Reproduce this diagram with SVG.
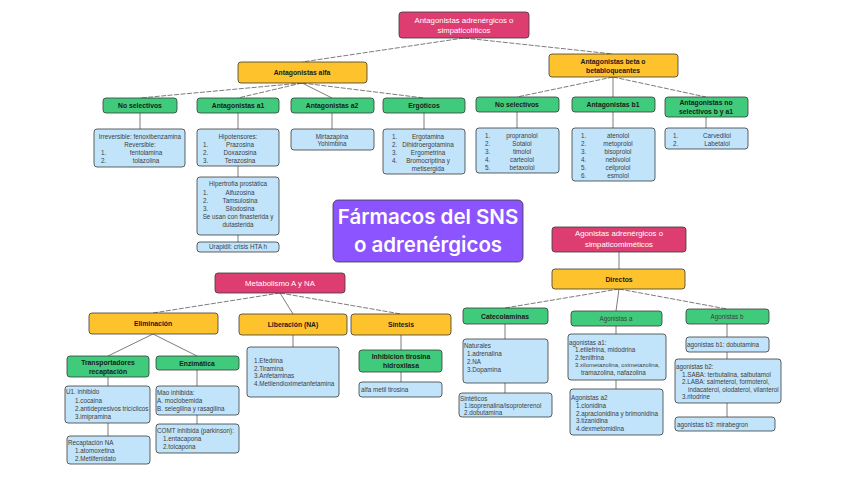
<svg xmlns="http://www.w3.org/2000/svg" width="848" height="477" viewBox="0 0 848 477">
<style>
rect{stroke:#3a3a3a;stroke-width:0.8}
.pk{fill:#DE3D72}.yl{fill:#FEC22C}.gn{fill:#3FCB7B}.bl{fill:#C2E4FA}.pu{fill:#8C54FF}
text{font-family:"Liberation Sans",Arial,sans-serif}
.h{font-size:6.8px;font-weight:bold;fill:#1a1a1a;text-anchor:middle}
.w{font-size:7.8px;fill:#fff;text-anchor:middle}
.t{font-size:6.3px;fill:#404040}
.s{font-size:6px}
.c{text-anchor:middle}
.ttl{font-family:Inter,"Open Sans",sans-serif;font-size:20.5px;font-weight:600;fill:#fff;text-anchor:middle}
.ln line{stroke:#5a5a5a;stroke-width:0.8}
.ln .d{stroke-dasharray:5 1.5}
</style>
<rect width="848" height="477" fill="#fff" style="stroke:none"/>
<g class="ln" id="connectors">
<line class="d" x1="464" y1="38" x2="302" y2="62"/>
<line class="d" x1="464" y1="38" x2="613" y2="54"/>
<line class="d" x1="302" y1="83" x2="140" y2="98"/>
<line class="d" x1="302" y1="83" x2="238" y2="98"/>
<line x1="302" y1="83" x2="332" y2="98"/>
<line class="d" x1="302" y1="83" x2="424" y2="98"/>
<line class="d" x1="613" y1="77" x2="517" y2="97"/>
<line x1="613" y1="77" x2="613" y2="97"/>
<line class="d" x1="613" y1="77" x2="706" y2="97"/>
<line x1="140" y1="113" x2="140" y2="129"/>
<line x1="238" y1="113" x2="238" y2="129"/>
<line x1="238" y1="166" x2="238" y2="177"/>
<line x1="238" y1="235" x2="238" y2="242"/>
<line x1="332" y1="113" x2="332" y2="129"/>
<line x1="424" y1="113" x2="424" y2="129"/>
<line x1="517" y1="112" x2="517" y2="128"/>
<line x1="613" y1="112" x2="613" y2="128"/>
<line x1="706" y1="117" x2="706" y2="128"/>
<line class="d" x1="280" y1="293" x2="153" y2="313"/>
<line x1="280" y1="293" x2="293" y2="314"/>
<line class="d" x1="280" y1="293" x2="401" y2="314"/>
<line x1="153" y1="334" x2="108" y2="356"/>
<line x1="153" y1="334" x2="197" y2="356"/>
<line x1="108" y1="377" x2="108" y2="386"/>
<line x1="108" y1="423" x2="108" y2="436"/>
<line x1="197" y1="370" x2="197" y2="386"/>
<line x1="197" y1="415" x2="197" y2="424"/>
<line x1="293" y1="335" x2="293" y2="347"/>
<line x1="401" y1="335" x2="401" y2="350"/>
<line x1="401" y1="372" x2="401" y2="382"/>
<line x1="619" y1="252" x2="619" y2="269"/>
<line class="d" x1="619" y1="289" x2="505" y2="308"/>
<line x1="619" y1="289" x2="616" y2="311"/>
<line class="d" x1="619" y1="289" x2="727" y2="309"/>
<line x1="505" y1="324" x2="505" y2="339"/>
<line x1="505" y1="383" x2="505" y2="393"/>
<line x1="616" y1="326" x2="616" y2="334"/>
<line x1="616" y1="380" x2="616" y2="389"/>
<line x1="727" y1="324" x2="727" y2="337"/>
<line x1="727" y1="352" x2="727" y2="359"/>
<line x1="727" y1="403" x2="727" y2="417"/>
</g>

<g id="antagonistas">
<rect class="pk" x="399" y="12" width="130" height="26" rx="3"/>
<text class="w" x="464" y="22.5">Antagonistas adrenérgicos o</text>
<text class="w" x="464" y="32.5">simpaticolíticos</text>
</g>
<g id="alfa"><rect class="yl" x="238" y="62" width="129" height="21" rx="3"/><text class="h" x="302" y="75">Antagonistas alfa</text></g>
<g id="beta"><rect class="yl" x="549" y="54" width="129" height="23" rx="3"/><text class="h" x="613" y="64">Antagonistas beta o</text><text class="h" x="613" y="73">betabloqueantes</text></g>

<g id="noselA"><rect class="gn" x="103" y="98" width="74" height="15" rx="3"/><text class="h" x="140" y="108">No selectivos</text></g>
<g id="a1"><rect class="gn" x="197" y="98" width="82" height="15" rx="3"/><text class="h" x="238" y="108">Antagonistas a1</text></g>
<g id="a2"><rect class="gn" x="291" y="98" width="83" height="15" rx="3"/><text class="h" x="332" y="108">Antagonistas a2</text></g>
<g id="ergo"><rect class="gn" x="383" y="98" width="82" height="15" rx="3"/><text class="h" x="424" y="108">Ergóticos</text></g>
<g id="noselB"><rect class="gn" x="476" y="97" width="83" height="15" rx="3"/><text class="h" x="517" y="107">No selectivos</text></g>
<g id="b1"><rect class="gn" x="572" y="97" width="83" height="15" rx="3"/><text class="h" x="613" y="107">Antagonistas b1</text></g>
<g id="nsba1"><rect class="gn" x="665" y="97" width="83" height="20" rx="3"/><text class="h" x="706" y="105">Antagonistas no</text><text class="h" x="706" y="113.5">selectivos b y a1</text></g>

<g id="noselA-list"><rect class="bl" x="94" y="129" width="91" height="38" rx="3"/>
<text class="t c" x="140" y="139">Irreversible: fenoxibenzamina</text>
<text class="t c" x="140" y="146.5">Reversible:</text>
<text class="t" x="101" y="154.5">1.</text><text class="t c" x="146" y="154.5">fentolamina</text>
<text class="t" x="101" y="162.5">2.</text><text class="t c" x="146" y="162.5">tolazolina</text></g>
<g id="hipot"><rect class="bl" x="197" y="129" width="82" height="37" rx="3"/>
<text class="t c" x="238" y="139">Hipotensores:</text>
<text class="t" x="203" y="147">1.</text><text class="t c" x="240" y="147">Prazosina</text>
<text class="t" x="203" y="155">2.</text><text class="t c" x="240" y="155">Doxazosina</text>
<text class="t" x="203" y="163">3.</text><text class="t c" x="240" y="163">Terazosina</text></g>
<g id="hiper"><rect class="bl" x="197" y="177" width="82" height="58" rx="3"/>
<text class="t c" x="238" y="186">Hipertrofia prostática</text>
<text class="t" x="203" y="194.5">1.</text><text class="t c" x="240" y="194.5">Alfuzosina</text>
<text class="t" x="203" y="202.5">2.</text><text class="t c" x="240" y="202.5">Tamsulosina</text>
<text class="t" x="203" y="210.5">3.</text><text class="t c" x="240" y="210.5">Silodosina</text>
<text class="t c" x="238" y="218.5">Se usan con finasterida y</text>
<text class="t c" x="238" y="226.5">dutasterida</text></g>
<g id="urap"><rect class="bl" x="197" y="242" width="82" height="10" rx="3"/><text class="t c" x="238" y="249.2">Urapidil: crisis HTA h</text></g>
<g id="a2-list"><rect class="bl" x="291" y="129" width="83" height="21" rx="3"/>
<text class="t c" x="332" y="138.5">Mirtazapina</text><text class="t c" x="332" y="145.5">Yohimbina</text></g>
<g id="ergo-list"><rect class="bl" x="383" y="129" width="82" height="45" rx="3"/>
<text class="t" x="392" y="138.5">1.</text><text class="t c" x="428" y="138.5">Ergotamina</text>
<text class="t" x="392" y="146.5">2.</text><text class="t c" x="428" y="146.5">Dihidroergotamina</text>
<text class="t" x="392" y="154.5">3.</text><text class="t c" x="428" y="154.5">Ergometrina</text>
<text class="t" x="392" y="163">4.</text><text class="t c" x="428" y="163">Bromocriptina y</text>
<text class="t c" x="428" y="171">metisergida</text></g>
<g id="noselB-list"><rect class="bl" x="476" y="128" width="83" height="45" rx="3"/>
<text class="t" x="485" y="137.5">1.</text><text class="t c" x="522" y="137.5">propranolol</text>
<text class="t" x="485" y="145.5">2.</text><text class="t c" x="522" y="145.5">Sotalol</text>
<text class="t" x="485" y="153.5">3.</text><text class="t c" x="522" y="153.5">timolol</text>
<text class="t" x="485" y="161.5">4.</text><text class="t c" x="522" y="161.5">carteolol</text>
<text class="t" x="485" y="169.5">5.</text><text class="t c" x="522" y="169.5">betaxolol</text></g>
<g id="b1-list"><rect class="bl" x="572" y="128" width="83" height="53" rx="3"/>
<text class="t" x="581" y="137.5">1.</text><text class="t c" x="618" y="137.5">atenolol</text>
<text class="t" x="581" y="145.5">2.</text><text class="t c" x="618" y="145.5">metoprolol</text>
<text class="t" x="581" y="153.5">3.</text><text class="t c" x="618" y="153.5">bisoprolol</text>
<text class="t" x="581" y="161.5">4.</text><text class="t c" x="618" y="161.5">nebivolol</text>
<text class="t" x="581" y="169.5">5.</text><text class="t c" x="618" y="169.5">celiprolol</text>
<text class="t" x="581" y="177.5">6.</text><text class="t c" x="618" y="177.5">esmolol</text></g>
<g id="nsba1-list"><rect class="bl" x="665" y="128" width="83" height="21" rx="3"/>
<text class="t" x="673" y="137.5">1.</text><text class="t c" x="717" y="137.5">Carvedilol</text>
<text class="t" x="673" y="145.5">2.</text><text class="t c" x="717" y="145.5">Labetalol</text></g>

<g id="titulo"><rect class="pu" x="333" y="200" width="190" height="62" rx="5"/>
<text class="ttl" x="428" y="224">Fármacos del SNS</text>
<text class="ttl" x="428" y="252">o adrenérgicos</text></g>

<g id="metabolismo"><rect class="pk" x="215" y="273" width="130" height="20" rx="3"/><text class="w" x="280" y="286">Metabolismo A y NA</text></g>
<g id="eliminacion"><rect class="yl" x="89" y="313" width="129" height="21" rx="3"/><text class="h" x="153" y="326">Eliminación</text></g>
<g id="liberacion"><rect class="yl" x="239" y="314" width="108" height="21" rx="3"/><text class="h" x="293" y="327">Liberación (NA)</text></g>
<g id="sintesis"><rect class="yl" x="351" y="314" width="100" height="21" rx="3"/><text class="h" x="401" y="327">Síntesis</text></g>
<g id="transp"><rect class="gn" x="67" y="356" width="82" height="21" rx="3"/><text class="h" x="108" y="365">Transportadores</text><text class="h" x="108" y="373.5">recaptación</text></g>
<g id="enzim"><rect class="gn" x="156" y="356" width="83" height="14" rx="3"/><text class="h" x="197" y="365.5">Enzimática</text></g>
<g id="transp-list"><rect class="bl" x="65" y="386" width="85" height="37" rx="3"/>
<text class="t" x="66" y="394">U1. inhibido</text>
<text class="t" x="75" y="403">1.cocaina</text>
<text class="t" x="75" y="411">2.antidepresivos tricíclicos</text>
<text class="t" x="75" y="419">3.imipramina</text></g>
<g id="recap"><rect class="bl" x="67" y="436" width="83" height="28" rx="3"/>
<text class="t" x="68" y="445">Recaptación NA</text>
<text class="t" x="75" y="452.5">1.atomoxetina</text>
<text class="t" x="75" y="460.5">2.Metilfenidato</text></g>
<g id="mao"><rect class="bl" x="156" y="386" width="83" height="29" rx="3"/>
<text class="t" x="157" y="395">Mao inhibida:</text>
<text class="t" x="157" y="403">A. moclobemida</text>
<text class="t" x="157" y="411">B. selegilina y rasagilina</text></g>
<g id="comt"><rect class="bl" x="156" y="424" width="83" height="29" rx="3"/>
<text class="t" x="157" y="433">COMT inhibida (parkinson):</text>
<text class="t" x="163" y="440.5">1.entacapona</text>
<text class="t" x="163" y="448.5">2.tolcapona</text></g>
<g id="lib-list"><rect class="bl" x="247" y="347" width="92" height="50" rx="3"/>
<text class="t" x="254" y="363">1.Efedrina</text>
<text class="t" x="254" y="370.5">2.Tiramina</text>
<text class="t" x="254" y="378">3.Anfetaminas</text>
<text class="t" x="254" y="386">4.Metilendioximetanfetamina</text></g>
<g id="inhib"><rect class="gn" x="359" y="350" width="83" height="22" rx="3"/><text class="h" x="401" y="359">Inhibicion tirosina</text><text class="h" x="401" y="367.5">hidroxilasa</text></g>
<g id="amt"><rect class="bl" x="359" y="382" width="83" height="15" rx="3"/><text class="t" x="361" y="392">alfa metil tirosina</text></g>

<g id="agonistas"><rect class="pk" x="552" y="227" width="134" height="25" rx="3"/>
<text class="w" x="619" y="236">Agonistas adrenérgicos o</text>
<text class="w" x="619" y="246.5">simpaticomiméticos</text></g>
<g id="directos"><rect class="yl" x="552" y="269" width="133" height="20" rx="3"/><text class="h" x="619" y="281.5">Directos</text></g>
<g id="catecol"><rect class="gn" x="463" y="308" width="85" height="16" rx="3"/><text class="h" x="505" y="318.5">Catecolaminas</text></g>
<g id="agA"><rect class="gn" x="571" y="311" width="91" height="15" rx="3"/><text class="t c" x="616" y="320.5">Agonistas a</text></g>
<g id="agB"><rect class="gn" x="686" y="309" width="83" height="15" rx="3"/><text class="t c" x="727" y="318.5">Agonistas b</text></g>
<g id="natur"><rect class="bl" x="463" y="339" width="85" height="44" rx="3"/>
<text class="t" x="464" y="348">Naturales</text>
<text class="t" x="467" y="355.5">1.adrenalina</text>
<text class="t" x="467" y="364">2.NA</text>
<text class="t" x="467" y="372">3.Dopamina</text></g>
<g id="sint"><rect class="bl" x="459" y="393" width="93" height="24" rx="3"/>
<text class="t" x="460" y="400.5">Sintéticos</text>
<text class="t" x="464" y="408">1.isoprenalina/isoproterenol</text>
<text class="t" x="464" y="415">2.dobutamina</text></g>
<g id="aga1"><rect class="bl" x="568" y="334" width="98" height="46" rx="3"/>
<text class="t" x="569" y="345">agonistas a1:</text>
<text class="t" x="575" y="352">1.etilefrina, midodrina</text>
<text class="t" x="575" y="359.5">2.fenilfrina</text>
<text class="t s" x="575" y="367">3.xilometazolina, oximetazolina,</text>
<text class="t" x="581" y="375">tramazolina, nafazolina</text></g>
<g id="aga2"><rect class="bl" x="570" y="389" width="93" height="46" rx="3"/>
<text class="t" x="571" y="400">Agonistas a2</text>
<text class="t" x="576" y="408">1.clonidina</text>
<text class="t" x="576" y="415.5">2.apraclonidina y brimonidina</text>
<text class="t" x="576" y="423">3.tizanidina</text>
<text class="t" x="576" y="430.5">4.dexmetomidina</text></g>
<g id="agb1"><rect class="bl" x="686" y="337" width="83" height="15" rx="3"/><text class="t" x="687" y="347">agonistas b1: dobutamina</text></g>
<g id="agb2"><rect class="bl" x="675" y="359" width="106" height="44" rx="3"/>
<text class="t" x="676" y="369">agonistas b2:</text>
<text class="t" x="682" y="376.5">1.SABA: terbutalina, salbutamol</text>
<text class="t" x="682" y="384">2.LABA: salmeterol, formoterol,</text>
<text class="t" x="688" y="391.5">indacaterol, olodaterol, vilanterol</text>
<text class="t" x="682" y="399">3.ritodrine</text></g>
<g id="agb3"><rect class="bl" x="675" y="417" width="100" height="14" rx="3"/><text class="t" x="677" y="426.5">agonistas b3: mirabegron</text></g>
</svg>
